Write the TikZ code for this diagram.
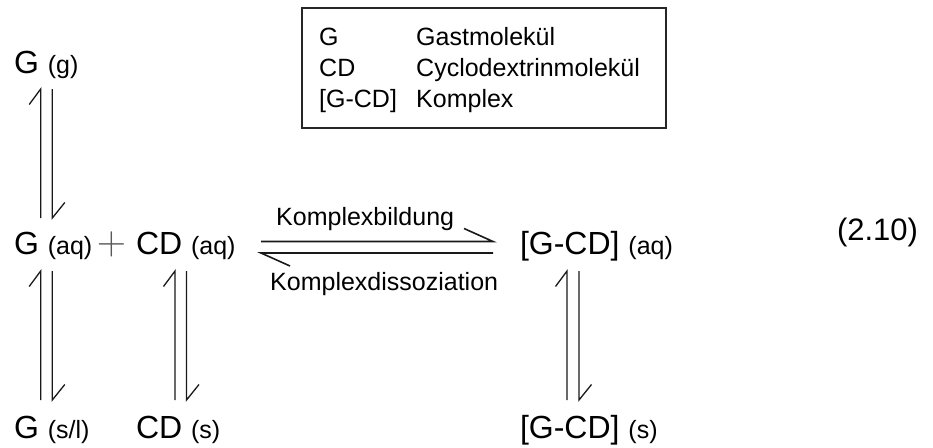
\documentclass[tikz,border=0pt]{standalone}
\usepackage{fontspec}
\usepackage{graphicx}
\setmainfont{Liberation Sans}
\newcommand{\bigf}{\fontsize{32}{36}\selectfont}
\newcommand{\smallf}{\fontsize{25}{28}\selectfont}
\begin{document}
\begin{tikzpicture}[x=1pt,y=-1pt,
  species/.style={anchor=base west,inner sep=0pt,outer sep=0pt,text=black},
  lbl/.style={anchor=base west,inner sep=0pt,font=\smallf,text=black},
  eqline/.style={draw=black!90,line width=1.3pt,line join=miter},
  legbox/.style={draw=black!85,line width=1.4pt}]
\useasboundingbox (0,0) rectangle (933,447);

% species
\node[species] (Gg)    at (14,73)   {\bigf G\ \smallf (g)};
\node[species] (Gaq)   at (14,254)  {\bigf G\ \smallf (aq)};
\node[inner sep=0pt,text=black!65] (plus) at (111.5,244.5) {\fontsize{24.88}{26}\selectfont\scalebox{1.63}{$+$}};
\node[species] (CDaq)  at (136,254) {\bigf CD\ \smallf (aq)};
\node[species] (GCDaq) at (520,254) {\bigf [G-CD]\ \smallf (aq)};
\node[species] (Gs)    at (14,438)  {\bigf G\ \smallf (s/l)};
\node[species] (CDs)   at (136,438) {\bigf CD\ \smallf (s)};
\node[species] (GCDs)  at (520,438) {\bigf [G-CD]\ \smallf (s)};

% arrow labels
\node[lbl] (kb) at (276,225) {Komplexbildung};
\node[lbl] (kd) at (270,290) {Komplexdissoziation};

% equation number
\node[species,font=\fontsize{31}{34}\selectfont] (eqn) at (837,240) {(2.10)};

% legend
\draw[legbox] (302,8) rectangle (666,128);
\node[lbl] (l1a) at (319,45)  {G};
\node[lbl] (l1b) at (416,45)  {Gastmolekül};
\node[lbl] (l2a) at (319,76)  {CD};
\node[lbl] (l2b) at (416,76)  {Cyclodextrinmolekül};
\node[lbl] (l3a) at (319,107) {[G-CD]};
\node[lbl] (l3b) at (416,107) {Komplex};

% arrow end points
\coordinate (a1Lb) at (40.7,218); \coordinate (a1Lt) at (40.7,89);
\coordinate (a1Rt) at (52.3,89);  \coordinate (a1Rb) at (52.3,218);
\coordinate (a2Lb) at (40.7,400); \coordinate (a2Lt) at (40.7,271);
\coordinate (a2Rt) at (52.3,271); \coordinate (a2Rb) at (52.3,400);
\coordinate (a3Lb) at (175,400);  \coordinate (a3Lt) at (175,271);
\coordinate (a3Rt) at (186.5,271);\coordinate (a3Rb) at (186.5,400);
\coordinate (a4Lb) at (567,400);  \coordinate (a4Lt) at (567,271);
\coordinate (a4Rt) at (579,271);  \coordinate (a4Rb) at (579,400);
\coordinate (hTl) at (261,241.5); \coordinate (hTr) at (493,241.5);
\coordinate (hBr) at (493,253);   \coordinate (hBl) at (261,253);

% vertical equilibrium harpoons
\foreach \c in {a1,a2,a3,a4}{
  \draw[eqline] (\c Lb) -- (\c Lt) -- ++(-11.5,15.5);
  \draw[eqline] (\c Rt) -- (\c Rb) -- ++(12.5,-15.5);
}
% horizontal equilibrium harpoons
\draw[eqline,line width=1.6pt] (hTl) -- (hTr) -- ++(-29,-13);
\draw[eqline,line width=1.6pt] (hBr) -- (hBl) -- ++(29,13);
\end{tikzpicture}
\end{document}
